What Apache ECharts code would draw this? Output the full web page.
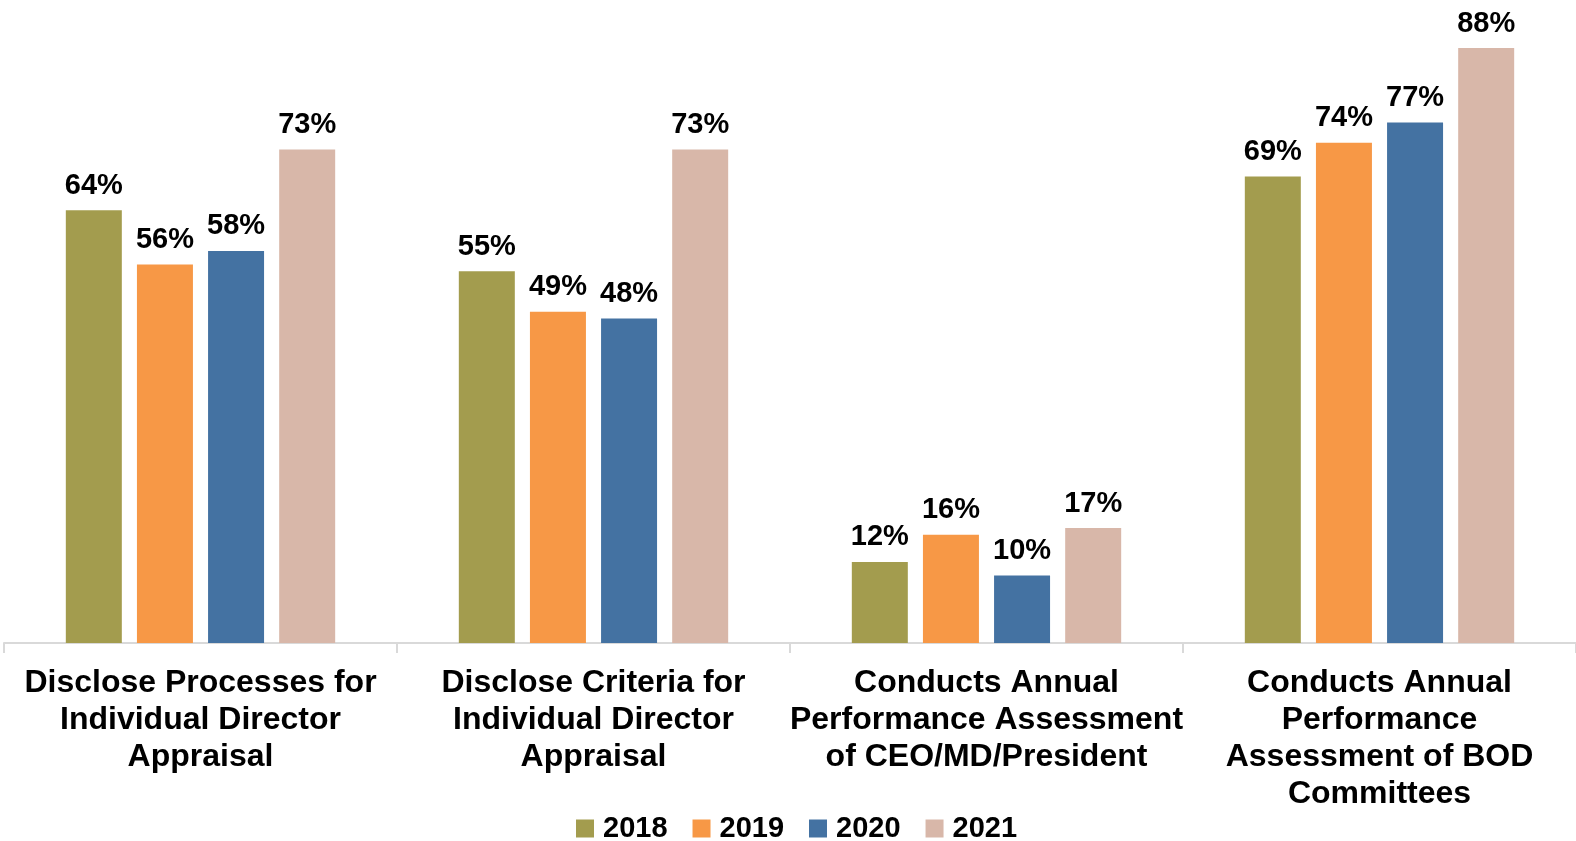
<!DOCTYPE html>
<html>
<head>
<meta charset="utf-8">
<script src="https://cdn.jsdelivr.net/npm/echarts@6/dist/echarts.min.js"></script>
<style>html,body{margin:0;padding:0;background:#fff}#c{width:1576px;height:841px}</style>
</head>
<body>
<div id="c"></div>
<script>
const categories = [
  "Disclose Processes for\nIndividual Director\nAppraisal",
  "Disclose Criteria for\nIndividual Director\nAppraisal",
  "Conducts Annual\nPerformance Assessment\nof CEO/MD/President",
  "Conducts Annual\nPerformance\nAssessment of BOD\nCommittees"
];
const seriesNames = ["2018", "2019", "2020", "2021"];
const v2018 = [64, 55, 12, 69];
const v2019 = [56, 49, 16, 74];
const v2020 = [58, 48, 10, 77];
const v2021 = [73, 73, 17, 88];
const colors = ["#A39C4E", "#F79846", "#4472A2", "#D8B7A9"];
const values = [v2018, v2019, v2020, v2021];

const chart = echarts.init(document.getElementById('c'), null, {renderer: 'canvas'});
chart.setOption({
  animation: false,
  textStyle: {fontFamily: 'Liberation Sans, Arial, sans-serif'},
  grid: {left: 4, right: 0, top: 34.6, bottom: 198, containLabel: false},
  legend: {
    top: 809, left: 571,
    itemWidth: 18, itemHeight: 18, itemGap: 25,
    icon: 'rect',
    textStyle: {fontSize: 29, fontWeight: 'bold', color: '#000', padding: [0, 0, 0, 4]},
    data: seriesNames
  },
  xAxis: {
    type: 'category', data: categories,
    axisLine: {lineStyle: {color: '#D9D9D9', width: 2}},
    axisTick: {show: true, length: 10, lineStyle: {color: '#D9D9D9', width: 2}},
    axisLabel: {fontSize: 32, fontWeight: 'bold', color: '#000', lineHeight: 37, margin: 22, interval: 0}
  },
  yAxis: {type: 'value', min: 0, max: 90, show: false, splitLine: {show: false}},
  series: seriesNames.map((n, i) => ({
    name: n, type: 'bar', data: values[i],
    barWidth: 56, barGap: '27%',
    itemStyle: {color: colors[i]},
    label: {show: true, position: 'top', distance: 10, formatter: '{c}%', fontSize: 29, fontWeight: 'bold', color: '#000'}
  }))
});
</script>
</body>
</html>
